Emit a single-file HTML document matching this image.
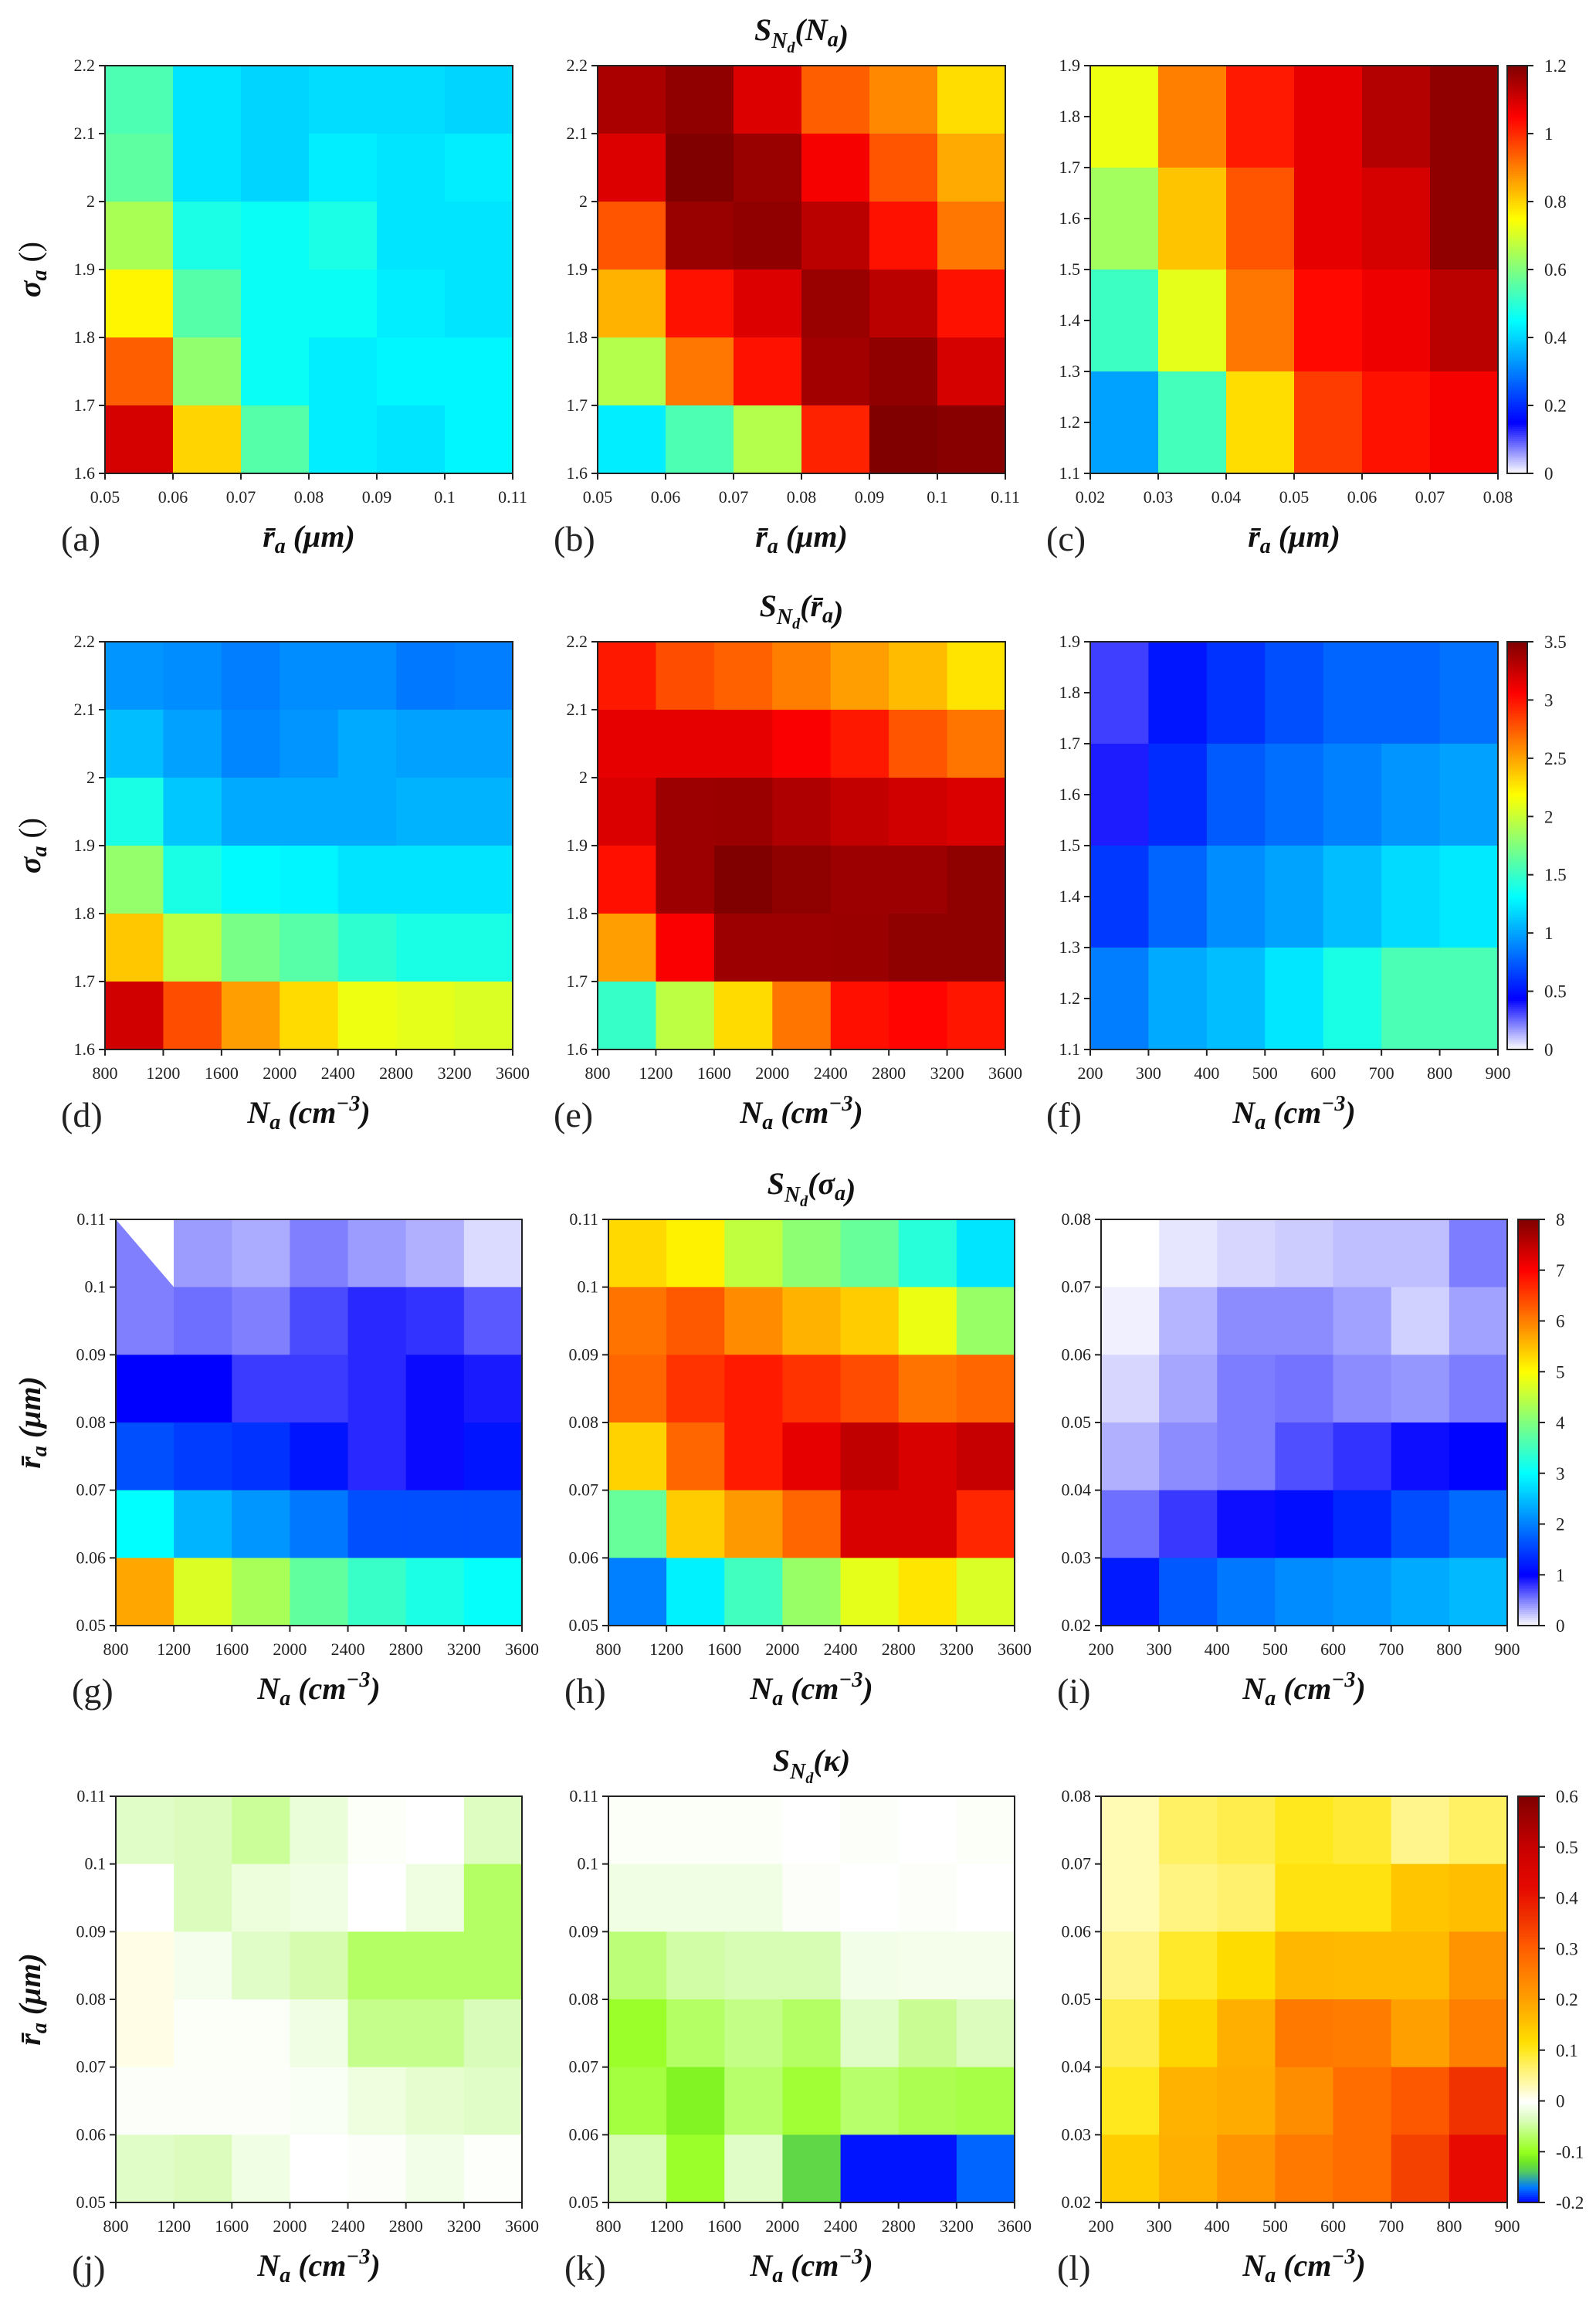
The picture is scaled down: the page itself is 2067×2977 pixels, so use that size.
<!DOCTYPE html>
<html><head><meta charset="utf-8"><title>S_Nd sensitivity heatmaps</title>
<style>html,body{margin:0;padding:0;background:#fff;}svg{display:block;}svg text{font-family:'Liberation Serif','DejaVu Serif',serif;}</style>
</head><body>
<svg id="fig" xmlns="http://www.w3.org/2000/svg" width="2067" height="2977" viewBox="0 0 2067 2977" style="font-family:'Liberation Serif',serif"></svg>
<script>
// ---------- data ----------
const rBins1 = [0.05,0.06,0.07,0.08,0.09,0.10,0.11];
const sBins1 = [2.2,2.1,2.0,1.9,1.8,1.7,1.6];
const rBinsC = [0.02,0.03,0.04,0.05,0.06,0.07,0.08];
const sBinsC = [1.9,1.7,1.5,1.3,1.1];
const sTicksC = [1.9,1.8,1.7,1.6,1.5,1.4,1.3,1.2,1.1];
const naBins = [800,1200,1600,2000,2400,2800,3200,3600];
const naBinsS = [200,300,400,500,600,700,800,900];
const rBins3 = [0.11,0.10,0.09,0.08,0.07,0.06,0.05];
const rBins3S = [0.08,0.07,0.06,0.05,0.04,0.03,0.02];

const valsA = [
 [0.54,0.42,0.40,0.41,0.41,0.40],
 [0.56,0.42,0.40,0.43,0.42,0.43],
 [0.65,0.48,0.46,0.48,0.42,0.42],
 [0.76,0.55,0.46,0.46,0.43,0.42],
 [0.94,0.62,0.46,0.43,0.44,0.44],
 [1.10,0.80,0.55,0.43,0.42,0.44]];
const valsB = [
 [1.15,1.18,1.09,0.94,0.89,0.79],
 [1.09,1.20,1.17,1.06,0.95,0.85],
 [0.95,1.17,1.18,1.13,1.03,0.91],
 [0.84,1.03,1.09,1.17,1.13,1.03],
 [0.66,0.91,1.03,1.16,1.18,1.10],
 [0.43,0.54,0.66,1.01,1.20,1.19]];
const valsC = [
 [0.73,0.90,1.02,1.08,1.14,1.18],
 [0.64,0.82,0.95,1.08,1.10,1.18],
 [0.52,0.72,0.91,1.04,1.07,1.13],
 [0.34,0.53,0.79,0.98,1.03,1.06]];
const valsD = [
 [0.95,0.92,0.87,0.92,0.92,0.85,0.87],
 [1.09,0.99,0.90,0.95,1.02,0.99,0.99],
 [1.40,1.12,1.02,1.02,1.02,1.05,1.05],
 [1.82,1.40,1.30,1.28,1.22,1.22,1.22],
 [2.38,1.96,1.72,1.61,1.47,1.40,1.40],
 [3.22,2.80,2.52,2.31,2.13,2.10,2.06]];
const valsE = [
 [2.98,2.80,2.73,2.63,2.52,2.42,2.28],
 [3.15,3.15,3.15,3.08,2.98,2.77,2.66],
 [3.19,3.40,3.41,3.34,3.27,3.22,3.19],
 [3.01,3.40,3.50,3.45,3.40,3.40,3.45],
 [2.52,3.08,3.40,3.40,3.41,3.45,3.45],
 [1.50,1.96,2.31,2.66,3.01,3.05,2.99]];
const valsF = [
 [0.33,0.51,0.61,0.71,0.78,0.78,0.83],
 [0.39,0.59,0.75,0.82,0.88,0.95,0.99],
 [0.63,0.78,0.92,1.00,1.09,1.19,1.24],
 [0.87,1.02,1.09,1.23,1.40,1.57,1.57]];
const valsG = [
 [0.50,0.39,0.33,0.50,0.39,0.31,0.14],
 [0.50,0.57,0.50,0.71,0.84,0.80,0.65],
 [1.00,1.00,0.77,0.77,0.84,0.96,0.90],
 [1.62,1.47,1.39,1.16,0.84,0.96,1.16],
 [3.00,2.41,2.18,1.94,1.62,1.62,1.62],
 [5.70,4.72,4.32,3.76,3.44,3.20,3.04]];
const valsH = [
 [5.3,5.1,4.5,4.1,3.8,3.3,2.8],
 [6.1,6.3,5.9,5.6,5.4,4.85,4.2],
 [6.2,6.6,6.8,6.6,6.4,6.1,6.2],
 [5.35,6.2,6.8,7.2,7.5,7.3,7.45],
 [3.8,5.4,5.8,6.2,7.3,7.3,6.7],
 [2.0,2.9,3.5,4.2,4.8,5.2,4.7]];
const valsI = [
 [0.00,0.10,0.16,0.20,0.25,0.25,0.51],
 [0.06,0.29,0.45,0.45,0.37,0.18,0.37],
 [0.16,0.35,0.51,0.55,0.45,0.41,0.51],
 [0.31,0.45,0.51,0.69,0.80,0.95,1.02],
 [0.57,0.78,0.95,1.10,1.30,1.60,1.85],
 [1.20,1.70,1.94,2.10,2.18,2.33,2.45]];
const valsJ = [
 [-0.03,-0.035,-0.05,-0.02,-0.004,0.0,-0.033],
 [0.0,-0.035,-0.018,-0.015,0.0,-0.016,-0.07],
 [0.01,-0.01,-0.03,-0.042,-0.07,-0.07,-0.07],
 [0.01,-0.004,-0.004,-0.015,-0.055,-0.055,-0.037],
 [-0.003,-0.003,-0.003,-0.005,-0.017,-0.025,-0.03],
 [-0.03,-0.035,-0.015,0.0,-0.003,-0.012,-0.002]];
const valsK = [
 [-0.004,-0.004,-0.004,0.0,-0.003,0.0,-0.004],
 [-0.015,-0.015,-0.015,-0.003,0.0,-0.003,0.0],
 [-0.063,-0.045,-0.04,-0.04,-0.013,-0.011,-0.011],
 [-0.095,-0.07,-0.057,-0.07,-0.03,-0.052,-0.035],
 [-0.085,-0.11,-0.067,-0.09,-0.067,-0.078,-0.083],
 [-0.04,-0.095,-0.03,-0.13,-0.195,-0.195,-0.175]];
const valsL = [
 [0.03,0.07,0.08,0.10,0.09,0.05,0.07],
 [0.03,0.055,0.065,0.11,0.11,0.15,0.16],
 [0.05,0.095,0.12,0.17,0.165,0.165,0.22],
 [0.08,0.13,0.18,0.26,0.255,0.20,0.25],
 [0.10,0.175,0.185,0.23,0.28,0.31,0.36],
 [0.14,0.18,0.22,0.26,0.28,0.34,0.42]];

const cbTicks1 = [0,0.2,0.4,0.6,0.8,1,1.2];
const cbTicks2 = [0,0.5,1,1.5,2,2.5,3,3.5];
const cbTicks3 = [0,1,2,3,4,5,6,7,8];
const cbTicks4 = [-0.2,-0.1,0,0.1,0.2,0.3,0.4,0.5,0.6];

// ---------- colormaps ----------
const jetStops = [[0,[255,255,255]],[0.125,[0,0,255]],[0.375,[0,255,255]],[0.625,[255,255,0]],[0.875,[255,0,0]],[1,[128,0,0]]];
const divStops = [[-0.2,[0,0,255]],[-0.17,[0,120,255]],[-0.14,[80,200,100]],[-0.12,[110,230,40]],[-0.1,[150,255,30]],[-0.07,[180,255,100]],[-0.04,[215,252,180]],[0,[255,255,255]],[0.03,[255,250,180]],[0.07,[255,240,100]],[0.1,[255,232,30]],[0.12,[255,220,0]],[0.2,[255,160,0]],[0.3,[255,95,0]],[0.36,[240,50,0]],[0.42,[230,10,0]],[0.5,[200,0,0]],[0.6,[128,0,0]]];
function interp(stops,t){
  if(t<=stops[0][0]) return stops[0][1];
  for(let i=1;i<stops.length;i++){
    if(t<=stops[i][0]){const a=stops[i-1],b=stops[i];const u=(t-a[0])/(b[0]-a[0]);
      return a[1].map((c,k)=>Math.round(c+(b[1][k]-c)*u));}
  }
  return stops[stops.length-1][1];
}
function jetColor(v,vmin,vmax){const c=interp(jetStops,(v-vmin)/(vmax-vmin));return `rgb(${c[0]},${c[1]},${c[2]})`;}
function divColor(v){const c=interp(divStops,v);return `rgb(${c[0]},${c[1]},${c[2]})`;}

// ---------- drawing helpers ----------
const NS='http://www.w3.org/2000/svg';
const svg=document.getElementById('fig');
function mk(tag,attrs,parent){const e=document.createElementNS(NS,tag);for(const k in attrs)e.setAttribute(k,attrs[k]);(parent||svg).appendChild(e);return e;}
function fmt(v){return (Math.round(v*1000)/1000).toString();}

function drawPanel(p){
  const g=mk('g',{});
  
  
  const nx=p.xb.length-1, ny=p.yb.length-1;
  const xs=v=>p.left+(v-p.xb[0])/(p.xb[nx]-p.xb[0])*p.w;
  const ys=v=>p.top+(p.yb[0]-v)/(p.yb[0]-p.yb[ny])*p.h;
  for(let r=0;r<ny;r++){for(let c=0;c<nx;c++){
    const x0=xs(p.xb[c]),x1=xs(p.xb[c+1]),y0=ys(p.yb[r]),y1=ys(p.yb[r+1]);
    const cell=mk('rect',{x:x0,y:y0,width:x1-x0+0.6,height:y1-y0+0.6,fill:p.color(p.vals[r][c])},g);
    
    
    if(p.tri && r===0 && c===0){
      const t=mk('polygon',{points:`${x0},${y0} ${x1},${y0} ${x1},${y1}`,fill:'#fff'},g);
      
      
    }
  }}
  const fr=mk('rect',{x:p.left,y:p.top,width:p.w,height:p.h,fill:'none',stroke:'#222','stroke-width':2},g);
  
  
  p.xt.forEach(v=>{
    const x=xs(v);
    mk('line',{x1:x,x2:x,y1:p.top+p.h,y2:p.top+p.h+8,stroke:'#222','stroke-width':2},g);
    const t=mk('text',{x:x,y:p.top+p.h+38,'text-anchor':'middle','font-size':22,fill:'#222'},g);
    t.textContent=fmt(v);
    
    
  });
  p.yt.forEach(v=>{
    const y=ys(v);
    mk('line',{x1:p.left-8,x2:p.left,y1:y,y2:y,stroke:'#222','stroke-width':2},g);
    const t=mk('text',{x:p.left-13,y:y+7,'text-anchor':'end','font-size':22,fill:'#222'},g);
    t.textContent=fmt(v);
    
    
  });
  const pl=mk('text',{x:p.left-57,y:p.top+p.h+100,'font-size':46,fill:'#222'},g);
  pl.textContent='('+p.id+')';
  
  
  const cx=p.left+p.w/2, ly=p.top+p.h+95;
  const xl=mk('text',{x:cx,y:ly,'text-anchor':'middle','font-size':40,'font-weight':'bold','font-style':'italic',fill:'#111'},g);
  
  
  if(p.xlab==='r') xl.innerHTML='<tspan>r\u0304</tspan><tspan font-size="28" dy="8">a</tspan><tspan dy="-8"> (μm)</tspan>';
  else xl.innerHTML='<tspan>N</tspan><tspan font-size="28" dy="8">a</tspan><tspan dy="-8"> (cm</tspan><tspan font-size="28" dy="-16">−3</tspan><tspan dy="16">)</tspan>';
  if(p.ylab){
    const yc=p.top+p.h/2;
    const yl=mk('text',{x:0,y:0,transform:`translate(52,${yc}) rotate(-90)`,'text-anchor':'middle','font-size':40,'font-weight':'bold','font-style':'italic',fill:'#111'},g);
    
    
    if(p.ylab==='s') yl.innerHTML='<tspan>σ</tspan><tspan font-size="28" dy="8">a</tspan><tspan dy="-8" font-style="normal" font-weight="normal"> ()</tspan>';
    else yl.innerHTML='<tspan>r\u0304</tspan><tspan font-size="28" dy="8">a</tspan><tspan dy="-8"> (μm)</tspan>';
  }
}

function drawColorbar(cb){
  const g=mk('g',{});
  
  
  const n=200;
  for(let i=0;i<n;i++){
    const v=cb.vmin+(cb.vmax-cb.vmin)*(i+0.5)/n;
    const y=cb.top+cb.h-(i+1)*cb.h/n;
    mk('rect',{x:cb.left,y:y,width:cb.w,height:cb.h/n+0.6,fill:cb.color(v)},g);
  }
  mk('rect',{x:cb.left,y:cb.top,width:cb.w,height:cb.h,fill:'none',stroke:'#222','stroke-width':2},g);
  cb.ticks.forEach(v=>{
    const y=cb.top+cb.h-(v-cb.vmin)/(cb.vmax-cb.vmin)*cb.h;
    mk('line',{x1:cb.left+cb.w,x2:cb.left+cb.w+8,y1:y,y2:y,stroke:'#222','stroke-width':2},g);
    const t=mk('text',{x:cb.left+cb.w+22,y:y+8,'font-size':23,fill:'#222'},g);
    t.textContent=fmt(v);
    
    
  });
}

function drawTitle(x,y,arg,id){
  const t=mk('text',{x:x,y:y,'text-anchor':'middle','font-size':40,'font-weight':'bold','font-style':'italic',fill:'#111'});
  
  
  t.innerHTML='<tspan>S</tspan><tspan font-size="28" dy="10">N</tspan><tspan font-size="20" dy="6">d</tspan><tspan font-size="40" dy="-16">(</tspan>'+arg+'<tspan font-size="40">)</tspan>';
}

// ---------- layout ----------
const W1=528, W3=526;
const row1=85,row2=831,row3=1579,row4=2326;
const colA=[136,774,1412], colB=[150,788,1426];
const j1=(v)=>jetColor(v,0,1.2), j2=(v)=>jetColor(v,0,3.5), j3=(v)=>jetColor(v,0,8);
const rT=[0.05,0.06,0.07,0.08,0.09,0.1,0.11];
const sT=[2.2,2.1,2,1.9,1.8,1.7,1.6];
const rT3=[0.05,0.06,0.07,0.08,0.09,0.1,0.11];
const rT3S=[0.02,0.03,0.04,0.05,0.06,0.07,0.08];

const panels=[
 {id:'a',left:colA[0],top:row1,w:W1,h:W1,xb:rBins1,yb:sBins1,xt:rT,yt:sT,vals:valsA,color:j1,xlab:'r',ylab:'s'},
 {id:'b',left:colA[1],top:row1,w:W1,h:W1,xb:rBins1,yb:sBins1,xt:rT,yt:sT,vals:valsB,color:j1,xlab:'r'},
 {id:'c',left:colA[2],top:row1,w:W1,h:W1,xb:rBinsC,yb:sBinsC,xt:rBinsC,yt:sTicksC,vals:valsC,color:j1,xlab:'r'},
 {id:'d',left:colA[0],top:row2,w:W1,h:W1,xb:naBins,yb:sBins1,xt:naBins,yt:sT,vals:valsD,color:j2,xlab:'n',ylab:'s'},
 {id:'e',left:colA[1],top:row2,w:W1,h:W1,xb:naBins,yb:sBins1,xt:naBins,yt:sT,vals:valsE,color:j2,xlab:'n'},
 {id:'f',left:colA[2],top:row2,w:W1,h:W1,xb:naBinsS,yb:sBinsC,xt:naBinsS,yt:sTicksC,vals:valsF,color:j2,xlab:'n'},
 {id:'g',left:colB[0],top:row3,w:W3,h:W3,xb:naBins,yb:rBins3,xt:naBins,yt:rT3,vals:valsG,color:j3,xlab:'n',ylab:'r',tri:true},
 {id:'h',left:colB[1],top:row3,w:W3,h:W3,xb:naBins,yb:rBins3,xt:naBins,yt:rT3,vals:valsH,color:j3,xlab:'n'},
 {id:'i',left:colB[2],top:row3,w:W3,h:W3,xb:naBinsS,yb:rBins3S,xt:naBinsS,yt:rT3S,vals:valsI,color:j3,xlab:'n'},
 {id:'j',left:colB[0],top:row4,w:W3,h:W3,xb:naBins,yb:rBins3,xt:naBins,yt:rT3,vals:valsJ,color:divColor,xlab:'n',ylab:'r'},
 {id:'k',left:colB[1],top:row4,w:W3,h:W3,xb:naBins,yb:rBins3,xt:naBins,yt:rT3,vals:valsK,color:divColor,xlab:'n'},
 {id:'l',left:colB[2],top:row4,w:W3,h:W3,xb:naBinsS,yb:rBins3S,xt:naBinsS,yt:rT3S,vals:valsL,color:divColor,xlab:'n'}
];
panels.forEach(drawPanel);

drawColorbar({id:'row1',left:1952,top:row1,w:26,h:W1,vmin:0,vmax:1.2,ticks:cbTicks1,color:j1});
drawColorbar({id:'row2',left:1952,top:row2,w:26,h:W1,vmin:0,vmax:3.5,ticks:cbTicks2,color:j2});
drawColorbar({id:'row3',left:1966,top:row3,w:27,h:W3,vmin:0,vmax:8,ticks:cbTicks3,color:j3});
drawColorbar({id:'row4',left:1966,top:row4,w:27,h:W3,vmin:-0.2,vmax:0.6,ticks:cbTicks4,color:divColor});

drawTitle(1038,52,'<tspan>N</tspan><tspan font-size="28" dy="8">a</tspan><tspan dy="-8"></tspan>','na');
drawTitle(1038,798,'<tspan>r\u0304</tspan><tspan font-size="28" dy="8">a</tspan><tspan dy="-8"></tspan>','ra');
drawTitle(1051,1546,'<tspan>σ</tspan><tspan font-size="28" dy="8">a</tspan><tspan dy="-8"></tspan>','sigma');
drawTitle(1051,2293,'<tspan>κ</tspan>','kappa');
</script>
</body></html>
